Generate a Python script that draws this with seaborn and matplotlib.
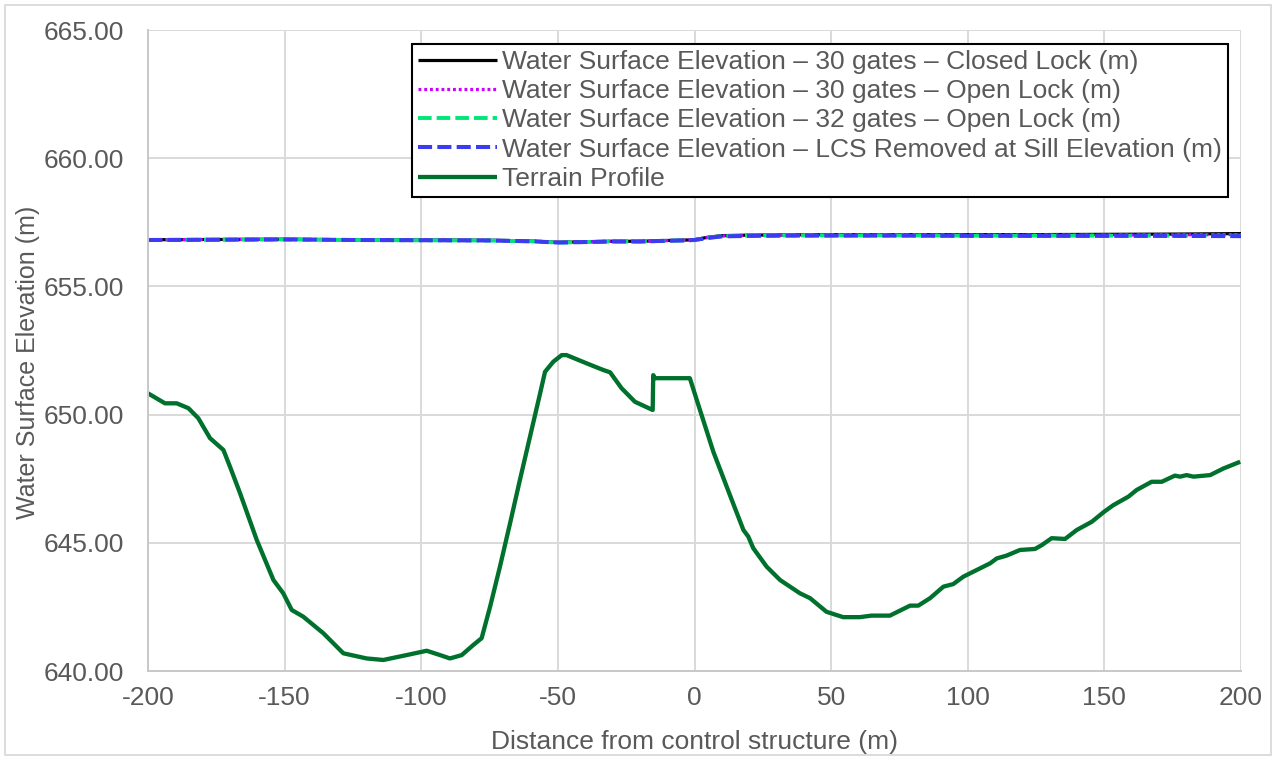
import numpy as np
import pandas as pd
import matplotlib
matplotlib.use("Agg")
import matplotlib.pyplot as plt
import seaborn as sns
from matplotlib.patches import Rectangle

# ---------------- data ----------------
ws_x = [-200, -175, -150, -125, -100, -75, -60, -50, -40, -30, -20, -10, -5, 0, 5, 10, 20, 35, 50, 75, 100, 125, 150, 175, 200]
ws_closed_30 = [656.82, 656.83, 656.84, 656.82, 656.81, 656.80, 656.77, 656.72, 656.74, 656.76, 656.76, 656.79, 656.80, 656.82, 656.92, 656.98, 657.00, 657.01, 657.02, 657.02, 657.02, 657.02, 657.03, 657.04, 657.06]
ws_open_30 = [656.82, 656.83, 656.84, 656.82, 656.81, 656.80, 656.77, 656.72, 656.74, 656.76, 656.76, 656.79, 656.80, 656.82, 656.91, 656.97, 656.99, 657.00, 657.01, 657.01, 657.00, 657.00, 657.00, 657.01, 657.02]
ws_open_32 = [656.81, 656.82, 656.83, 656.81, 656.80, 656.79, 656.76, 656.71, 656.73, 656.75, 656.75, 656.78, 656.79, 656.81, 656.90, 656.96, 656.98, 656.99, 656.99, 656.99, 656.98, 656.98, 656.98, 656.98, 656.98]
ws_lcs_removed = [656.81, 656.82, 656.83, 656.81, 656.80, 656.79, 656.76, 656.71, 656.73, 656.75, 656.75, 656.78, 656.79, 656.81, 656.89, 656.95, 656.97, 656.98, 656.98, 656.98, 656.97, 656.97, 656.97, 656.97, 656.96]

terrain_x = [-200, -193.8, -189.5, -185.2, -181.6, -177.3, -172.4, -170, -166.3, -160.2, -154.1, -150.5,
             -147.4, -143.2, -135.8, -128.5, -120, -113.9, -105.4, -98.0, -93.1, -89.5, -85.2, -81.0,
             -77.9, -74.8, -71.2, -67.5, -63.9, -60.2, -56.5, -54.7, -51.7, -48.6, -46.8, -39.5, -33.4,
             -30.9, -26.7, -24.2, -21.8, -15.3, -15.1, -14.5, -1.7, 2.0, 6.9, 13.0, 17.9, 19.7, 21.5,
             26.4, 31.3, 38.6, 42.3, 48.3, 54.4, 60.5, 64.8, 71.5, 78.9, 81.9, 86.2, 91.1, 94.7, 98.4,
             103.3, 108.2, 110.6, 114.2, 119.1, 124.6, 127.1, 130.7, 135.6, 139.9, 145.4, 149.9, 153.3,
             158.8, 161.8, 167.3, 171.0, 175.8, 177.7, 180.1, 182.6, 188.7, 193.6, 199.7]
terrain_z = [650.83, 650.44, 650.44, 650.25, 649.86, 649.08, 648.62, 647.97, 646.93, 645.11, 643.55, 643.03,
             642.38, 642.12, 641.47, 640.69, 640.49, 640.43, 640.62, 640.79, 640.62, 640.49, 640.62, 641.01,
             641.28, 642.51, 644.07, 645.76, 647.45, 649.14, 650.83, 651.67, 652.06, 652.32, 652.32, 652.00, 651.74,
             651.65, 651.03, 650.76, 650.50, 650.18, 651.54, 651.42, 651.42, 650.18, 648.55, 646.85, 645.50, 645.24, 644.79,
             644.07, 643.55, 643.03, 642.84, 642.31, 642.10, 642.10, 642.16, 642.16, 642.55, 642.55, 642.84, 643.29, 643.39, 643.68,
             643.94, 644.20, 644.39, 644.50, 644.72, 644.76, 644.91, 645.18, 645.15, 645.50, 645.82, 646.21, 646.47,
             646.80, 647.06, 647.38, 647.38, 647.62, 647.58, 647.64, 647.58, 647.64, 647.90, 648.16]

labels = [
    "Water Surface Elevation \u2013 30 gates \u2013 Closed Lock (m)",
    "Water Surface Elevation \u2013 30 gates \u2013 Open Lock (m)",
    "Water Surface Elevation \u2013 32 gates \u2013 Open Lock (m)",
    "Water Surface Elevation \u2013 LCS Removed at Sill Elevation (m)",
    "Terrain Profile",
]
x_ticks = [-200, -150, -100, -50, 0, 50, 100, 150, 200]
y_ticks = [640, 645, 650, 655, 660, 665]

# ---------------- style ----------------
sns.set_theme(style="whitegrid")
plt.rcParams["font.family"] = ["Liberation Sans", "DejaVu Sans"]
TXT = "#595959"
GRID = "#d9d9d9"

fig = plt.figure(figsize=(12.76, 7.6), dpi=100)
ax = fig.add_axes([148 / 1276, 1 - 671 / 760, (1241 - 148) / 1276, (671 - 30) / 760])
ax.set_facecolor("white")

series = [
    (ws_x, ws_closed_30, "#000000", "-", 2.3, labels[0]),
    (ws_x, ws_open_30, "#cc00ff", ":", 2.3, labels[1]),
    (ws_x, ws_open_32, "#00e676", "--", 2.8, labels[2]),
    (ws_x, ws_lcs_removed, "#3b3bf2", "--", 2.9, labels[3]),
    (terrain_x, terrain_z, "#00712d", "-", 3.1, labels[4]),
]
handles = []
for xs, ys, col, ls, lw, lab in series:
    df = pd.DataFrame({"x": xs, "y": ys})
    sns.lineplot(data=df, x="x", y="y", ax=ax, color=col, linewidth=lw, sort=False,
                 estimator=None, label=lab, legend=False)
    line = ax.get_lines()[-1]
    line.set_linestyle(ls)
    if ls == "--":
        line.set_dashes((3.5, 1.3))
    elif ls == ":":
        line.set_dashes((0.9, 0.9))
    line.set_solid_capstyle("butt")
    handles.append(line)

ax.set_xlim(-200, 200)
ax.set_ylim(640, 665)
ax.set_xticks(x_ticks)
ax.set_xticklabels([str(v) for v in x_ticks])
ax.set_yticks(y_ticks)
ax.set_yticklabels([f"{v:.2f}" for v in y_ticks])
ax.tick_params(axis="both", length=0, labelsize=19, colors=TXT)
ax.tick_params(axis="y", pad=17)
ax.tick_params(axis="x", pad=11)
ax.grid(True, color=GRID, linewidth=1.4)
for s in ["top", "right"]:
    ax.spines[s].set_visible(False)
for s in ["left", "bottom"]:
    ax.spines[s].set_visible(True)
    ax.spines[s].set_color("#c8c8c8")
    ax.spines[s].set_linewidth(1.4)

ax.set_xlabel("Distance from control structure (m)", fontsize=19, color=TXT, labelpad=14)
ax.set_ylabel("Water Surface Elevation (m)", fontsize=18, color=TXT)
ax.yaxis.set_label_coords(-0.099, 0.482)

leg = ax.legend(handles=handles, labels=labels, loc="upper right",
                bbox_to_anchor=((1228 - 148) / 1093, (671 - 44) / 641),
                fontsize=19, frameon=True, fancybox=False, framealpha=1,
                edgecolor="black", handlelength=3.0, handletextpad=0.2,
                labelspacing=0.2, borderpad=0.22, borderaxespad=0)
leg.get_frame().set_linewidth(1.5)
for t in leg.get_texts():
    t.set_color(TXT)

fig.patches.append(Rectangle((0.004, 0.006), 0.992, 0.988, transform=fig.transFigure,
                             fill=False, edgecolor="#d9d9d9", linewidth=1.3))

fig.savefig("out.png", dpi=100, facecolor="white")
